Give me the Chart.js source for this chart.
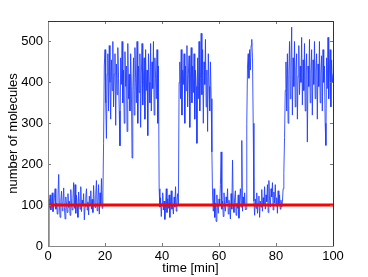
<!DOCTYPE html>
<html>
<head>
<meta charset="utf-8">
<script src="https://cdn.jsdelivr.net/npm/chart.js@4/dist/chart.umd.min.js"></script>
<style>
  body { margin: 0; background: #fff; }
  canvas { display: block; }
</style>
</head>
<body>
<canvas id="molecules-chart" width="368" height="277"></canvas>
<script>
const step = 0.25;
const molecules = [
    // low, 0 - 19.25 min
    115, 92, 108, 125, 88, 102, 130, 84, 96, 118, 140, 90, 105, 78, 122, 175, 98, 70, 112, 134,
    86, 104, 142, 95, 66, 120, 100, 82, 128, 94, 110, 75, 138, 100, 88, 116, 155, 92, 150, 80,
    124, 98, 70, 132, 106, 90, 145, 84, 112, 100, 128, 64, 96, 118, 140, 88, 108, 76, 122, 100,
    135, 90, 114, 82, 148, 104, 94, 126, 160, 86, 110, 150, 78, 130, 98, 165, 92, 120,
    250,
    // high, 19.75 - 38.75
    440, 480, 350, 263, 420, 470, 330, 490, 400, 310, 455, 380, 500, 340, 420, 470, 295, 445, 370, 485,
    410, 330, 245, 460, 395, 500, 350, 430, 300, 475, 390, 440, 280, 495, 360, 420, 330, 470, 390, 215,
    380, 460, 320, 485, 410, 350, 500, 300, 440, 375, 470, 290, 420, 495, 345, 405, 460, 310, 480, 380,
    430, 270, 470, 400, 350, 495, 330, 450, 385, 500, 320, 460, 410, 360, 480, 300, 440,
    140,
    // low, 39.25 - 45.75
    95, 118, 72, 105, 130, 88, 110, 65, 98, 140, 82, 115, 92, 125, 70, 108, 135, 90, 100, 78,
    120, 95, 145, 85, 110, 128, 100,
    400,
    // high, 46.25 - 57.25
    450, 360, 480, 320, 430, 395, 470, 300, 440, 380, 490, 340, 420, 465, 290, 410, 485, 350, 440, 375,
    470, 310, 430, 390, 251, 460, 360, 500, 330, 410, 520, 370, 480, 300, 450, 395, 505, 340, 430, 280,
    470, 390, 330, 450, 360,
    230,
    // low, 57.75 - 69.25
    120, 85, 140, 70, 105, 60, 125, 95, 80, 115, 100, 150, 230, 90, 110, 72, 130, 98, 85, 120,
    105, 140, 78, 112, 95, 66, 128, 90, 210, 100, 82, 118, 135, 75, 104, 92, 125, 68, 110, 140,
    95, 258, 85, 120, 100, 130, 88,
    // short burst, 69.5 - 72.25
    90, 300, 440, 470, 410, 480, 430, 490, 505, 460, 300, 110,
    // low, 72.5 - 82.25
    75, 115, 92, 130, 80, 105, 122, 70, 110, 95, 138, 85, 118, 100, 145, 90, 125, 108, 150, 82,
    160, 112, 95, 140, 120, 155, 88, 132, 105, 150, 98, 118, 80, 135, 100, 125, 90, 112, 95, 108,
    140, 180, 265, 380, 450,
    // high, 83.75 - 100
    330, 470, 300, 420, 500, 360, 445, 535, 320, 460, 390, 500, 340, 430, 470, 310, 415, 490, 370, 440,
    400, 510, 345, 455, 380, 495, 330, 425, 470, 254, 440, 390, 505, 350, 420, 480, 320, 455, 395, 500,
    360, 430, 470, 310, 445, 390, 500, 350, 420, 465, 330, 480, 400, 440, 300, 246, 460, 385, 510, 360,
    430, 480, 340, 455, 400, 420
];
// target level (red)
const targetX = [0, 0, 100];
const targetY = [0, 100, 100];

const xTicks = [0, 20, 40, 60, 80, 100];
const yTicks = [0, 100, 200, 300, 400, 500];

const font = { family: "'Liberation Sans', Arial, sans-serif", size: 13 };

// matlab style box with inward ticks
const boxPlugin = {
    id: "box",
    afterDraw(chart) {
        const { ctx, chartArea: a, scales } = chart;
        ctx.save();
        ctx.lineWidth = 1;
        ctx.strokeStyle = "#777";
        ctx.beginPath();
        xTicks.forEach((v) => {
            const px = Math.round(scales.x.getPixelForValue(v)) + 0.5;
            ctx.moveTo(px, a.bottom); ctx.lineTo(px, a.bottom - 3);
            ctx.moveTo(px, a.top); ctx.lineTo(px, a.top + 3);
        });
        yTicks.forEach((v) => {
            const py = Math.round(scales.y.getPixelForValue(v)) + 0.5;
            ctx.moveTo(a.left, py); ctx.lineTo(a.left + 3, py);
            ctx.moveTo(a.right, py); ctx.lineTo(a.right - 3, py);
        });
        ctx.stroke();
        ctx.strokeStyle = "#888";
        ctx.beginPath();
        ctx.moveTo(a.left + 0.5, a.top); ctx.lineTo(a.left + 0.5, a.bottom + 0.5);
        ctx.lineTo(a.right, a.bottom + 0.5);
        ctx.stroke();
        ctx.strokeStyle = "#333";
        ctx.beginPath();
        ctx.moveTo(a.left, a.top + 0.5); ctx.lineTo(a.right + 0.5, a.top + 0.5);
        ctx.lineTo(a.right + 0.5, a.bottom + 0.5);
        ctx.stroke();
        ctx.restore();
    },
};

const config = {
    type: "scatter",
    data: {
        datasets: [
            {
                data: targetX.map((x, i) => ({ x, y: targetY[i] })),
                showLine: true,
                borderColor: "rgb(255, 0, 0)",
                borderWidth: 3,
                pointRadius: 0,
                order: 0,
            },
            {
                data: molecules.map((y, i) => ({ x: i * step, y })),
                showLine: true,
                borderColor: "rgba(30, 60, 255, 0.85)",
                borderWidth: 1,
                pointRadius: 0,
                order: 1,
            },
        ],
    },
    options: {
        responsive: false,
        animation: false,
        devicePixelRatio: 1,
        layout: { padding: { top: 21, right: 35, left: 0, bottom: 0 } },
        scales: {
            x: {
                type: "linear",
                min: 0,
                max: 100,
                afterFit: (s) => { s.height = 31; },
                grid: { display: false, drawTicks: false },
                border: { display: false },
                ticks: { stepSize: 20, padding: 3, color: "#000", font, maxRotation: 0 },
                title: { display: true, text: "time [min]", color: "#000", font, padding: { top: 0, bottom: 1 } },
            },
            y: {
                min: 0,
                max: 550,
                afterFit: (s) => { s.width = 48; },
                grid: { display: false, drawTicks: false },
                border: { display: false },
                ticks: { stepSize: 100, includeBounds: false, padding: 5, color: "#000", font },
                title: { display: true, text: "number of molecules", color: "#000", font, padding: { top: 6, bottom: 0 } },
            },
        },
        plugins: {
            legend: { display: false },
            tooltip: { enabled: false },
        },
    },
    plugins: [boxPlugin],
};

const molChart = new Chart(document.getElementById("molecules-chart"), config);
</script>
</body>
</html>
